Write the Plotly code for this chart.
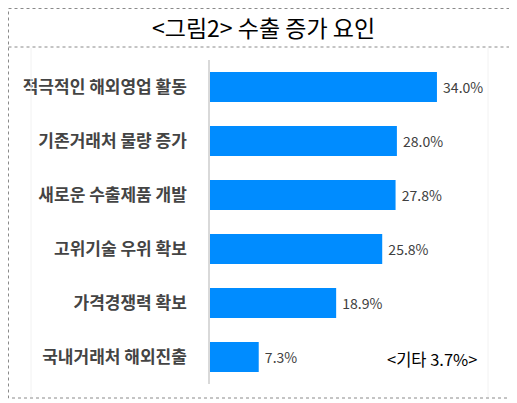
import plotly.graph_objects as go

categories = ["적극적인 해외영업 활동", "기존거래처 물량 증가", "새로운 수출제품 개발",
              "고위기술 우위 확보", "가격경쟁력 확보", "국내거래처 해외진출"]
values = [34.0, 28.0, 27.8, 25.8, 18.9, 7.3]
value_labels = ["34.0%", "28.0%", "27.8%", "25.8%", "18.9%", "7.3%"]
title_text = "<그림2> 수출 증가 요인"
note_text = "<기타 3.7%>"

# page body has an 8px margin; figure sized to fit the 517x403 window
OFF = 8
W, H = 517 - OFF, 403 - OFF
def px(x):
    return (x - OFF) / W
def py(y):
    return 1 - (y - OFF) / H

fig = go.Figure()
fig.add_trace(go.Bar(
    y=categories, x=values, orientation="h",
    marker=dict(color="#008CFF", line=dict(width=0)),
    text=value_labels, texttemplate=" %{text}", textposition="outside",
    textfont=dict(family="Noto Sans CJK KR", size=14, color="#404040"),
    cliponaxis=False, width=0.56,
))

shapes = [
    dict(type="rect", xref="paper", yref="paper", x0=px(8.5), x1=px(510), y0=py(8.5), y1=py(398),
         line=dict(color="#8a8a8a", width=1, dash="dot")),
    dict(type="line", xref="paper", yref="paper", x0=px(8.5), x1=px(510), y0=py(47), y1=py(47),
         line=dict(color="#8a8a8a", width=1, dash="dot")),
    dict(type="line", xref="paper", yref="paper", x0=px(31), x1=px(31), y0=py(48), y1=py(397),
         line=dict(color="#f2f2f2", width=1)),
    dict(type="line", xref="paper", yref="paper", x0=px(488), x1=px(488), y0=py(48), y1=py(397),
         line=dict(color="#f2f2f2", width=1)),
]

fig.update_layout(
    width=W, height=H,
    margin=dict(l=0, r=0, t=0, b=0),
    paper_bgcolor="white", plot_bgcolor="white",
    showlegend=False,
    shapes=shapes,
    annotations=[
        dict(text=title_text, xref="paper", yref="paper", x=px(264), y=py(27),
             showarrow=False, xanchor="center", yanchor="middle",
             font=dict(family="Noto Sans CJK KR", size=23, color="#000000")),
        dict(text=note_text, xref="paper", yref="paper", x=px(432), y=py(359),
             showarrow=False, xanchor="center", yanchor="middle",
             font=dict(family="Noto Sans CJK KR", size=16.5, color="#000000")),
    ],
    xaxis=dict(domain=[px(210), px(477)], range=[0, 40], visible=False, fixedrange=True),
    yaxis=dict(domain=[py(384), py(60)], autorange="reversed", showgrid=False,
               showline=True, linecolor="#d9d9d9", linewidth=1.5,
               ticks="", ticklabelstandoff=18, automargin=False,
               tickfont=dict(family="Noto Sans CJK KR", size=17, color="#444444", weight="bold")),
)

fig.write_html("out.html")
